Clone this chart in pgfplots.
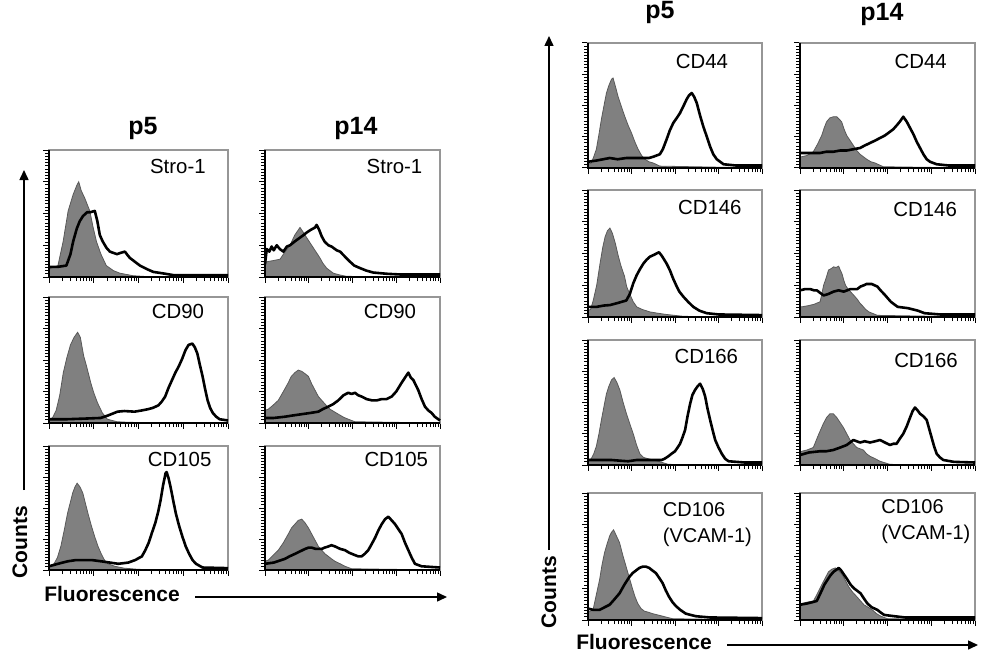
\documentclass[border=0pt]{standalone}
\usepackage{pgfplots}
\pgfplotsset{compat=1.18}
\usepackage{fontspec}
\setmainfont{Liberation Sans}
\usetikzlibrary{arrows.meta}
\definecolor{isog}{RGB}{128,128,128}
\definecolor{boxg}{RGB}{150,150,150}
\pgfplotsset{
  hist/.style={
    scale only axis, anchor=north west,
    xmin=0,xmax=100,ymin=0,ymax=100,
    axis line style={boxg, line width=0.6pt},
    xtick={0,25,50,75,100},
    minor xtick={7.5,11.9,15.1,17.5,19.5,21.1,22.6,23.9,32.5,36.9,40.1,42.5,44.5,46.1,47.6,48.9,57.5,61.9,65.1,67.5,69.5,71.1,72.6,73.9,82.5,86.9,90.1,92.5,94.5,96.1,97.6,98.9},
    ytick={0,25,50,75,100}, minor y tick num=9,
    xtick pos=left, ytick pos=left,
    xticklabels={}, yticklabels={},
    tick align=outside,
    major tick length=2.8pt, minor tick length=2pt,
    tick style={black, line width=0.5pt},
    clip=false,
    after end axis/.code={\draw[black, line width=1.3pt] (rel axis cs:0,1) -- (rel axis cs:0,0) -- (rel axis cs:1,0);},
  },
  iso/.style={draw=black!65, line width=0.4pt, fill=isog},
  mk/.style={black, line width=1.3pt, line join=round},
}
\newcommand{\lab}[3]{\node[font=\fontsize{10.2}{12}\selectfont] at (rel axis cs:#1,#2) {#3};}
\newcommand{\labw}[3]{\node[anchor=west,font=\fontsize{10}{12}\selectfont] at (rel axis cs:#1,#2) {#3};}
\begin{document}
\begin{tikzpicture}[x=0.5pt,y=-0.5pt]
\path[use as bounding box] (0,0) rectangle (990,658);

% ---------------- LEFT BLOCK ----------------
% p5 Stro-1
\begin{axis}[hist, at={(24.5pt,-75pt)}, width=89.5pt, height=63.5pt]
\addplot[iso] coordinates {(0,6) (1.3,7) (5,9) (7.9,28) (10.7,52) (13.5,65) (15.5,72) (16.6,75) (18,68) (20,62) (22.8,52) (24.5,40) (26.5,28) (29,18) (32,9) (36,5) (39.6,3) (47,1) (55,0.3) (100,0)} \closedcycle;
\addplot[mk] coordinates {(0,8) (5,8) (9.7,9) (12,18) (13.5,28) (15.5,38) (17.2,44) (19,48) (21.3,51) (23,51) (25.6,52) (27,44) (28.4,33) (30,28) (32.1,23) (34,20) (35.9,19) (38,18) (40,19) (42.4,20) (44,17) (45.2,15) (48,12) (50.8,9) (55,6) (58.3,4) (63,3) (69.5,1.5) (80,1.5) (100,1.5)};
\lab{0.72}{0.874}{Stro-1}
\end{axis}
% p14 Stro-1
\begin{axis}[hist, at={(132.5pt,-75pt)}, width=87.5pt, height=63.5pt]
\addplot[iso] coordinates {(0,12) (1,12) (5,13) (8.6,14) (11,19) (14.3,25) (17,33) (19,37) (20,39) (21.5,36) (23.8,31) (25.7,27) (27.6,23) (29.5,19) (31.4,15) (33,11) (35.2,7) (39,3) (43,1.5) (46.7,0.5) (100,0)} \closedcycle;
\addplot[mk] coordinates {(0,10) (1,22) (2.5,20) (3.8,24) (5,21) (6.7,25) (8.5,22) (10.5,20) (12.5,24) (14.3,25) (17,28) (20,31) (22,33) (23.8,35) (26,37) (28.6,39) (29.5,41) (31,37) (32.4,32) (34,28) (36.2,25) (38,24) (39,23) (41,21) (42.9,20) (45,17) (48.6,12) (51,9) (54.3,7) (58,5) (61.9,3.5) (70,2.5) (77,2) (100,2)};
\lab{0.74}{0.874}{Stro-1}
\end{axis}
% p5 CD90
\begin{axis}[hist, at={(24.5pt,-148.5pt)}, width=89.5pt, height=63pt]
\addplot[iso] coordinates {(0,2) (1,3) (2.3,5) (4,10) (6,22) (8,40) (10,52) (12,62) (14,68) (16,72) (17.5,68) (19.4,53) (21,45) (23.3,32) (25,24) (27.1,16) (29.8,8) (32.6,3) (38,1) (45,0.5) (100,0)} \closedcycle;
\addplot[mk] coordinates {(0,3) (10,3) (20,3.5) (28.8,4) (33,6) (38.3,9) (42.1,9.5) (47.8,9) (52,10) (55.4,11) (58,12) (61.1,14) (63,17) (64.9,21) (66.8,28) (68.7,34) (70.6,40) (72.5,45) (74.4,51) (76.3,58) (78,62) (80.1,63) (81.5,60) (82.9,55) (84.3,46) (85.8,37) (87.2,27) (88.6,18) (90,12) (91.5,8) (93.4,5) (95.3,3) (100,2)};
\lab{0.72}{0.889}{CD90}
\end{axis}
% p14 CD90
\begin{axis}[hist, at={(132.5pt,-148.5pt)}, width=87.5pt, height=63pt]
\addplot[iso] coordinates {(0,10) (1.9,11) (4.5,14) (7.6,18) (10.5,25) (13.3,32) (15,37) (17.1,40) (19,42) (21,41) (23,39) (24.8,37) (26.7,31) (28.6,26) (30.5,21) (32.4,18) (35,14) (37.1,11) (39.5,9) (41.9,7) (45,4.5) (47.6,3) (51.4,1) (100,0)} \closedcycle;
\addplot[mk] coordinates {(0,4) (5,4) (11.4,5) (16,6) (21,7) (26,8) (30.5,9) (33,11) (36.2,13) (39,15) (41.9,18) (44.8,22) (47.6,24) (49.5,23) (51.4,24) (53.3,22) (55.2,21) (58,19) (61,18) (64,18) (66.7,19) (69.5,19) (72.4,21) (75,25) (78.1,32) (80,36) (81.9,40) (83.3,36) (84.8,34) (86.2,30) (87.6,26) (89.5,19) (91.4,13) (93.3,10) (95.2,8) (97,5) (99,3) (100,2)};
\lab{0.714}{0.889}{CD90}
\end{axis}
% p5 CD105
\begin{axis}[hist, at={(24.5pt,-223pt)}, width=89.5pt, height=62pt]
\addplot[iso] coordinates {(0,3) (2.8,5) (4.7,10) (6.6,19) (8.5,32) (10.4,46) (12,55) (13.2,62) (14.5,67) (15.7,70) (17.3,67) (18.9,62) (20.3,54) (21.7,46) (23.6,36) (25.5,27) (27.4,19) (29.2,13) (31,8) (33,5) (36.8,3) (42,1.5) (50,0.5) (100,0)} \closedcycle;
\addplot[mk] coordinates {(0,3) (5,5) (10.4,7) (15,8) (19.8,8) (24,8) (29.2,7) (34,6) (38.7,5) (44.3,6) (48.1,8) (51.9,11) (53.8,16) (55.7,22) (57.5,30) (59.4,38) (61,47) (62.3,56) (63.7,68) (65.1,78) (65.7,79) (66.8,74) (67.9,67) (69.4,56) (70.8,46) (72.6,36) (74.5,27) (76.4,19) (78.3,13) (80.2,8) (82.1,5) (85.8,2) (100,1.5)};
\lab{0.73}{0.895}{CD105}
\end{axis}
% p14 CD105
\begin{axis}[hist, at={(132.5pt,-223pt)}, width=87.5pt, height=62pt]
\addplot[iso] coordinates {(0,7) (1.9,8) (4.7,12) (7.6,16) (10.5,22) (13.3,29) (15.2,34) (17.1,37) (19,40) (21,41) (22.9,38) (24.8,34) (26.7,29) (28.6,24) (30.5,19) (32.4,16) (34.3,13) (36.2,11) (38,9) (40,7) (43,5) (45.7,3) (49.5,1) (100,0)} \closedcycle;
\addplot[mk] coordinates {(0,5) (5,6) (11.4,9) (14,11) (17.1,13) (20,15) (22.9,17) (24.8,18) (26.7,18) (29,17) (32.4,17) (34,18) (36.2,19) (38,20) (40,19) (43,17) (45.7,16) (48,14) (51.4,12) (53.3,11) (55.2,11) (57,13) (59,16) (61,21) (62.9,26) (64.8,32) (66.7,37) (68.6,41) (70.5,43) (72.4,40) (74.3,37) (76.2,33) (78.1,29) (80,22) (81.9,16) (83.8,10) (85.7,5) (89.5,3) (100,2)};
\lab{0.75}{0.895}{CD105}
\end{axis}

\node[font=\bfseries\fontsize{12.5}{14}\selectfont] at (143,128) {p5};
\node[font=\bfseries\fontsize{12.5}{14}\selectfont] at (356,128) {p14};
\node[rotate=90, font=\bfseries\fontsize{10.5}{12}\selectfont] at (20,542) {Counts};
\draw[line width=0.75pt, -{Triangle[length=5pt,width=4.5pt]}] (24,490) -- (24,170);
\node[font=\bfseries\fontsize{10.5}{12}\selectfont] at (112,594) {Fluorescence};
\draw[line width=0.75pt, -{Triangle[length=5pt,width=4.5pt]}] (195,597) -- (447,597);

% ---------------- RIGHT BLOCK ----------------
% p5 CD44
\begin{axis}[hist, at={(294pt,-21.5pt)}, width=87pt, height=62.5pt]
\addplot[iso] coordinates {(0,3) (1.9,4) (3.3,9) (4.8,15) (6.3,27) (7.7,39) (9.2,50) (10.6,60) (12,66) (13.5,71) (14.4,72) (15.8,65) (17.3,57) (19.2,49) (21.2,41) (23.1,34) (25,28) (26.9,21) (28.8,15) (30.8,10) (32.7,7) (35,5) (37.5,4) (41.3,1.5) (100,0)} \closedcycle;
\addplot[mk] coordinates {(0,5) (5,6) (12.5,8) (17,7) (22.1,8) (27,8) (31.7,8) (35,8) (37.5,9) (41.3,11) (43,15) (45.2,23) (47,30) (49,36) (51,40) (52.9,44) (55,50) (56.7,55) (58,58) (59.6,60) (61,57) (62.5,52) (64.4,42) (66.3,33) (68.3,25) (70.2,17) (72,11) (74,7) (77.9,3) (85,2) (100,2)};
\lab{0.655}{0.856}{CD44}
\end{axis}
% p14 CD44
\begin{axis}[hist, at={(400pt,-21.5pt)}, width=87.5pt, height=62.5pt]
\addplot[iso] coordinates {(0,9) (1,9) (4,10) (7.6,13) (10,19) (12.4,26) (13.8,32) (15.2,37) (17,40) (19,41) (21,41) (22.4,39) (23.8,37) (25.2,31) (26.7,26) (28.6,22) (30.5,18) (32.4,14) (34.3,11) (36.2,9) (38.1,7) (40.5,5) (42.9,4) (47.6,1) (100,0)} \closedcycle;
\addplot[mk] coordinates {(0,12) (5,12) (11.4,12) (15,13) (19,13) (23,14) (26.7,14) (30.5,15) (34.3,16) (37,18) (40,20) (43,22) (45.7,24) (48.5,26) (51.4,29) (53.3,31) (55.2,34) (57,37) (59,41) (61,37) (62.9,32) (64.8,27) (66.7,21) (68.6,16) (70.5,11) (72.4,7) (74.3,5) (78.1,3) (85,2) (100,2)};
\lab{0.69}{0.856}{CD44}
\end{axis}
% p5 CD146
\begin{axis}[hist, at={(294pt,-95pt)}, width=87pt, height=63.5pt]
\addplot[iso] coordinates {(0,5) (1.5,6) (3,13) (5,25) (6.9,42) (8.5,55) (9.8,63) (11.2,68) (12.6,70) (14,66) (15.7,58) (17.4,48) (19,40) (21,32) (22.2,24) (24,18) (26,12) (28,8) (31,6) (35.6,4) (40,3) (45,2) (55,0.5) (100,0)} \closedcycle;
\addplot[mk] coordinates {(0,8) (5,8) (9,9) (12.6,9.4) (17,11) (22,13) (24,18) (26,26.5) (28,33) (30,38) (31.8,42) (33.6,45) (35.6,47.5) (38,49) (40.8,51) (42.5,48) (45.2,42) (47,37) (49,30) (51,24) (52.5,20) (54.8,16) (57.5,12) (60.5,8) (64,5) (68.2,3) (75,2) (100,1.5)};
\lab{0.70}{0.866}{CD146}
\end{axis}
% p14 CD146
\begin{axis}[hist, at={(400pt,-95pt)}, width=87.5pt, height=63.5pt]
\addplot[iso] coordinates {(0,8) (1,8) (5,9) (8,10) (11.5,12) (13.5,25) (15,31) (16.3,37) (17.7,38) (19.2,39.5) (20.5,39) (22.1,40) (23,37) (24,34) (25,29) (26,25) (27.4,22) (28.8,20) (30.8,17) (32.7,14) (34.2,11) (35.6,9) (37.5,6) (39.4,4) (44.2,1.3) (100,0)} \closedcycle;
\addplot[mk] coordinates {(0,21) (3,22) (5.8,22) (8,21) (9.6,21) (11.5,19) (13.5,17) (16,18) (19.2,20) (22,21) (25,20) (27,21) (28.8,22) (30.8,22) (32.7,22) (34.6,24) (36.5,25) (38,26) (39.4,26) (41,26) (42.5,25) (44.2,24) (46,21) (48.1,18) (50,15) (51.9,12) (53.8,10) (55.8,8) (58.6,7.5) (61.5,7) (64.4,6) (67.3,5) (71.2,3) (80,2) (100,2)};
\lab{0.715}{0.843}{CD146}
\end{axis}
% p5 CD166
\begin{axis}[hist, at={(294pt,-170pt)}, width=87pt, height=62.5pt]
\addplot[iso] coordinates {(0,4) (1.9,5) (3.3,9) (4.8,15) (6.3,25) (7.7,36) (9.2,47) (10.6,57) (12,63) (13.5,68) (15,70) (16.6,66) (18.3,60) (20.2,50) (22.1,41) (24,33) (26,25) (27.9,16) (29.8,9) (32,6) (34.6,5) (37.5,4) (40.4,3) (46.2,0.5) (100,0)} \closedcycle;
\addplot[mk] coordinates {(0,4) (5,4) (13.5,4) (18,3.5) (23,3) (28,4) (32.7,4) (38,4) (42.3,4) (44,5) (46.2,7) (48,9) (50,11) (51.5,14) (52.9,17) (54.3,22) (55.8,28) (57.2,39) (58.7,49) (60,56) (61.5,60) (63,63) (64.4,65) (65.9,61) (67.3,55) (68.7,45) (70.2,36) (71.6,28) (73.1,20) (75,14) (76.9,9) (78.8,5) (80.8,3) (90,2) (100,2)};
\lab{0.68}{0.872}{CD166}
\end{axis}
% p14 CD166
\begin{axis}[hist, at={(400pt,-170pt)}, width=87.5pt, height=62.5pt]
\addplot[iso] coordinates {(0,10) (1,11) (4,12) (7.6,14) (10.5,24) (13.3,33) (15.2,38) (17.1,41) (19,41) (21,38) (22.9,34) (24.8,30) (26.7,25) (28.6,20) (30.5,17) (32.4,14) (34.3,13) (36.2,12) (38,9) (40,7) (43,5) (45.7,3) (51.4,0.5) (100,0)} \closedcycle;
\addplot[mk] coordinates {(0,8) (5,10) (11.4,11) (15,11) (19,12) (23,14) (26.7,16) (28.6,18) (30.5,20) (32.4,19) (34.3,18) (37,19) (40,18) (43,19) (45.7,20) (48.5,18) (51.4,16) (53.3,17) (55.2,17) (57,21) (59,25) (61,31) (62.9,38) (64.3,43) (65.7,46) (67,44) (68.6,41) (70.5,39) (72.4,36) (73.8,29) (75.2,22) (76.6,15) (78.1,9) (80,6) (81.9,4) (88,2.5) (100,2)};
\lab{0.72}{0.84}{CD166}
\end{axis}
% p5 CD106
\begin{axis}[hist, at={(294pt,-246.5pt)}, width=87pt, height=63.5pt]
\addplot[iso] coordinates {(0,6) (1.5,7) (2.9,8) (4.8,20) (6.7,32) (8,43) (9.5,53) (11,60) (12.4,66) (13.5,69) (14.7,71) (16.4,66) (18.1,61) (20,51) (21.9,42) (23.8,33) (25.7,24) (27.1,18) (28.6,13) (30.5,9) (32.4,7) (35,6) (37.1,5) (40,4) (42.9,3) (48.6,1) (100,0)} \closedcycle;
\addplot[mk] coordinates {(0,9) (3,8) (6.7,8) (9.5,10) (12.4,12) (15,16) (18.1,21) (21,28) (23.8,34) (25.7,37) (27.6,39) (29.5,41) (31.4,42) (33.3,42) (35.2,41) (37,39) (39,37) (41,33) (42.9,29) (44.8,23) (46.7,18) (48.6,14) (50.5,11) (53,8) (56.2,5) (61.9,3) (70,2) (100,1.5)};
\labw{0.39}{0.866}{CD106}
\labw{0.39}{0.654}{(VCAM-1)}
\end{axis}
% p14 CD106
\begin{axis}[hist, at={(400pt,-246.5pt)}, width=87.5pt, height=63.5pt]
\addplot[iso] coordinates {(0,12) (1,13) (4,14) (7.7,15) (10,21) (12.5,28) (14.4,33) (16.3,38) (18.2,40) (20.2,41) (22,39) (24,36) (26,31) (27.9,26) (30,22) (32.7,18) (34.6,15) (36.5,12) (39,10) (41.3,8) (43.7,5) (46.2,3) (50,1) (100,0)} \closedcycle;
\addplot[mk] coordinates {(0,12) (4,13) (7,14) (9.6,15) (12,22) (14,28) (15.4,31) (17.3,35) (19.2,38) (21.2,40) (22.1,41) (23.5,39) (25,36) (27,32) (28.8,28) (30.8,25) (32.7,23) (34.6,21) (36.5,17) (38.5,13) (41,10) (44.2,8) (46,6) (48.1,4) (53.8,3) (60,2) (100,2)};
\labw{0.425}{0.89}{CD106}
\labw{0.425}{0.677}{(VCAM-1)}
\end{axis}

\node[font=\bfseries\fontsize{12.5}{14}\selectfont] at (660,12) {p5};
\node[font=\bfseries\fontsize{12.5}{14}\selectfont] at (882,14) {p14};
\node[rotate=90, font=\bfseries\fontsize{10.5}{12}\selectfont] at (549,592) {Counts};
\draw[line width=0.75pt, -{Triangle[length=5pt,width=4.5pt]}] (549,550) -- (549,36);
\node[font=\bfseries\fontsize{10.5}{12}\selectfont] at (644,642) {Fluorescence};
\draw[line width=0.75pt, -{Triangle[length=5pt,width=4.5pt]}] (727,645) -- (978,645);
\end{tikzpicture}
\end{document}
